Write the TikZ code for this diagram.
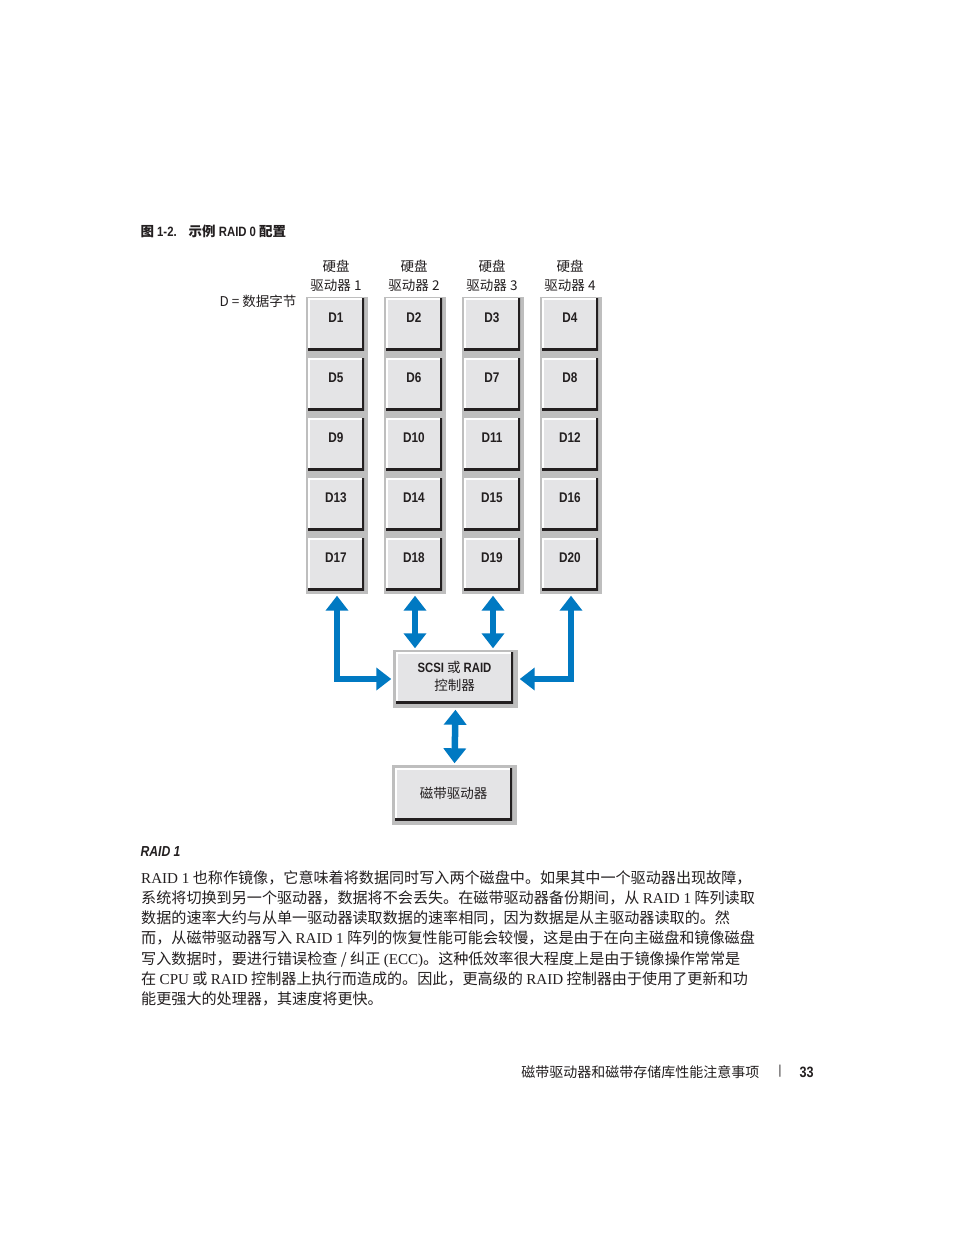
\documentclass[tikz,border=0pt]{standalone}
\usepackage{fontspec}
\setmainfont{Liberation Serif}
\setsansfont{Liberation Sans}[FakeStretch=0.84]
\newfontfamily\zh{Noto Sans CJK SC}
\usetikzlibrary{arrows.meta}
\definecolor{ink}{HTML}{231F20}
\definecolor{panel}{HTML}{BEBEBE}
\definecolor{face}{HTML}{E4E4E6}
\definecolor{wire}{HTML}{0079C2}
\newcommand\lat[1]{{\rmfamily #1}}

\begin{document}
\begin{tikzpicture}[x=1pt,y=-1pt,text=ink,
  plate/.style={fill=panel,inner sep=0pt},
  disk/.style={fill=face,inner sep=0pt,minimum width=56pt,minimum height=52pt,
    text depth=12pt,font=\sffamily\bfseries\fontsize{14}{14}\selectfont,
    path picture={
      \draw[white,line width=3pt] (path picture bounding box.south west)
        -- (path picture bounding box.north west)
        -- (path picture bounding box.north east);
      \draw[ink,line width=4pt] (path picture bounding box.south west)
        -- (path picture bounding box.south east)
        -- (path picture bounding box.north east);}},
  head/.style={align=center,font=\zh\fontsize{13.5}{19}\selectfont},
  link/.style={wire,line width=6.5pt,
    {Triangle[width=22pt,length=15pt]}-{Triangle[width=22pt,length=15pt]},
    shorten <=1.5pt,shorten >=1.5pt}]
  \fill[white] (0,0) rectangle (954,1235);
  \useasboundingbox (0,0) rectangle (954,1235);

  \node[anchor=west,font=\sffamily\bfseries\fontsize{13.5}{13.5}\selectfont] (title)
    at (137,231) {{\zh\bfseries 图} 1-2.\hspace{12pt}{\zh\bfseries 示例} RAID 0 {\zh\bfseries 配置}};

  % four drives with their data blocks
  \foreach \c in {1,...,4} {
    \node[plate,minimum width=62pt,minimum height=297pt] (col\c)
      at ({337+78*(\c-1)},445.5) {};
    \node[head] (h\c) at ({336+78*(\c-1)},275.5) {硬盘\\驱动器 \c};
  }
  \foreach \r in {0,...,4}
    \foreach \c in {1,...,4} {
      \pgfmathtruncatemacro\n{4*\r+\c}
      \node[disk] (d\n) at ({336+78*(\c-1)},{324+60*\r}) {D\n};
    }
  \node[anchor=east,font=\zh\fontsize{13.5}{13.5}\selectfont] (key)
    at (300,301) {D = 数据字节};

  % controller and tape drive
  \node[plate,minimum width=125pt,minimum height=58pt] (ctl) at (455.5,679) {};
  \node[disk,minimum width=117pt,minimum height=51pt,text depth=4pt,align=center,
    font=\zh\fontsize{13.5}{18}\selectfont] (ctlface) at (454.5,677.5)
    {{\sffamily\bfseries SCSI} 或 {\sffamily\bfseries RAID}\\控制器};
  \node[plate,minimum width=125pt,minimum height=60pt] (tape) at (454.5,795) {};
  \node[disk,minimum width=117pt,minimum height=52pt,text depth=3pt,
    font=\zh\fontsize{13.5}{13.5}\selectfont] (tapeface) at (453.5,794) {磁带驱动器};

  \draw[link] (col1.south) |- (ctl.west);
  \draw[link] (col2.south) -- (col2.south |- ctl.north);
  \draw[link] (col3.south) -- (col3.south |- ctl.north);
  \draw[link] (col4.south) |- (ctl.east);
  \draw[link] (ctl.south) -- (tape.north);

  % text below the figure
  \node[anchor=west,font=\sffamily\bfseries\itshape\fontsize{14.5}{14.5}\selectfont] (sub)
    at (137,851) {RAID 1};
  \node[anchor=north west,align=left,inner sep=0pt,
    font=\zh\fontsize{15.1}{20.3}\selectfont] (body) at (141,870) {%
    \lat{RAID 1} 也称作镜像，它意味着将数据同时写入两个磁盘中。如果其中一个驱动器出现故障，\\
    系统将切换到另一个驱动器，数据将不会丢失。在磁带驱动器备份期间，从 \lat{RAID 1} 阵列读取\\
    数据的速率大约与从单一驱动器读取数据的速率相同，因为数据是从主驱动器读取的。然\\
    而，从磁带驱动器写入 \lat{RAID 1} 阵列的恢复性能可能会较慢，这是由于在向主磁盘和镜像磁盘\\
    写入数据时，要进行错误检查 / 纠正 \lat{(ECC)}。这种低效率很大程度上是由于镜像操作常常是\\
    在 \lat{CPU} 或 \lat{RAID} 控制器上执行而造成的。因此，更高级的 \lat{RAID} 控制器由于使用了更新和功\\
    能更强大的处理器，其速度将更快。};

  % running footer
  \node[anchor=east,font=\zh\fontsize{14}{14}\selectfont] (foot) at (763,1072)
    {磁带驱动器和磁带存储库性能注意事项};
  \node[font=\sffamily\fontsize{13}{13}\selectfont] (bar) at (780,1071) {|};
  \node[anchor=west,font=\sffamily\bfseries\fontsize{15}{15}\selectfont] (page)
    at (796,1072) {33};
\end{tikzpicture}
\end{document}
